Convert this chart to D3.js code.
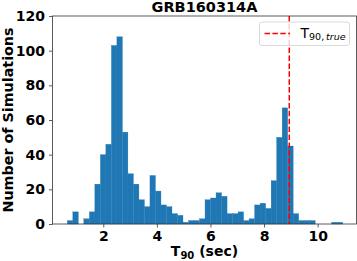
<!DOCTYPE html>
<html>
<head>
<meta charset="utf-8">
<script src="https://cdn.jsdelivr.net/npm/d3@7"></script>
<style>
  body { margin: 0; background: #fff; }
  text { font-family: "DejaVu Sans", sans-serif; }
</style>
</head>
<body>
<svg id="chart" width="357" height="261"></svg>
<script>
// histogram of simulated T90 values, 50 equal bins
const binStart = 0.657
const binWidth = 0.2056
const counts = [
  2, 7, 0, 3, 7, 23, 40, 46, 103, 108,
  53, 29, 23, 14, 10, 28, 19, 11, 10, 6,
  5, 1, 2, 2, 3, 14, 15, 18, 16, 6,
  6, 7, 2, 3, 11, 12, 9, 25, 50, 67,
  45, 6, 2, 2, 2, 0, 0, 0, 1, 1
]
const xTicks = [2, 4, 6, 8, 10]
const yTicks = [0, 20, 40, 60, 80, 100, 120]
const t90True = 8.94
const title = 'GRB160314A'

const svg = d3.select('#chart')
const mLeft = 52.5
const mRight = 356.5
const mTop = 16
const mBottom = 224

const x = d3.scaleLinear().domain([0.104, 11.45]).range([mLeft, mRight])
const y = d3.scaleLinear().domain([0, 120]).range([mBottom, mTop])

const bins = counts.map((c, i) => ({
  x0: binStart + i * binWidth,
  x1: binStart + (i + 1) * binWidth,
  n: c
}))

svg.append('g')
  .selectAll('rect')
  .data(bins.filter(d => d.n > 0))
  .enter()
  .append('rect')
  .attr('x', d => x(d.x0))
  .attr('width', d => x(d.x1) - x(d.x0))
  .attr('y', d => y(d.n))
  .attr('height', d => y(0) - y(d.n))
  .attr('fill', '#1f77b4')
  .attr('stroke', '#1f77b4')
  .attr('stroke-width', 0.3)

// vertical line for true T90
svg.append('line')
  .attr('x1', x(t90True)).attr('x2', x(t90True))
  .attr('y1', mTop).attr('y2', mBottom)
  .attr('stroke', '#ff0000')
  .attr('stroke-width', 1.5)
  .attr('stroke-dasharray', '5.5,2.4')

// axes
const xAxis = svg.append('g')
  .attr('transform', `translate(0,${mBottom})`)
  .call(d3.axisBottom(x).tickValues(xTicks).tickSize(3.5).tickPadding(4).tickFormat(d3.format('d')))
const yAxis = svg.append('g')
  .attr('transform', `translate(${mLeft},0)`)
  .call(d3.axisLeft(y).tickValues(yTicks).tickSize(3.5).tickPadding(4).tickFormat(d3.format('d')))

for (const ax of [xAxis, yAxis]) {
  ax.select('.domain').remove()
  ax.selectAll('line').attr('stroke', '#333').attr('stroke-width', 0.8)
  ax.selectAll('text')
    .attr('fill', '#000')
    .style('font-family', '"DejaVu Sans", sans-serif')
    .style('font-size', '14px')
    .style('font-weight', 'bold')
}

// frame
svg.append('rect')
  .attr('x', mLeft).attr('y', mTop)
  .attr('width', mRight - mLeft).attr('height', mBottom - mTop)
  .attr('fill', 'none')
  .attr('stroke', '#333')
  .attr('stroke-width', 0.8)

// title
svg.append('text')
  .attr('x', (mLeft + mRight) / 2)
  .attr('y', 11.5)
  .attr('text-anchor', 'middle')
  .style('font-size', '14.5px')
  .style('font-weight', 'bold')
  .text(title)

// x label
const xl = svg.append('text')
  .attr('x', (mLeft + mRight) / 2)
  .attr('y', 256)
  .attr('text-anchor', 'middle')
  .style('font-size', '14px')
  .style('font-weight', 'bold')
xl.append('tspan').text('T')
xl.append('tspan').attr('dy', 3).style('font-size', '10px').text('90')
xl.append('tspan').attr('dy', -3).text(' (sec)')

// y label
svg.append('text')
  .attr('transform', `translate(13,${(mTop + mBottom) / 2}) rotate(-90)`)
  .attr('text-anchor', 'middle')
  .style('font-size', '14.3px')
  .style('font-weight', 'bold')
  .text('Number of Simulations')

// legend
const lg = svg.append('g')
lg.append('rect')
  .attr('x', 259.5).attr('y', 22)
  .attr('width', 90).attr('height', 23.5)
  .attr('rx', 2.5)
  .attr('fill', '#fff').attr('fill-opacity', 0.8)
  .attr('stroke', '#d0d0d0').attr('stroke-width', 0.8)
lg.append('line')
  .attr('x1', 264.5).attr('x2', 290)
  .attr('y1', 33.5).attr('y2', 33.5)
  .attr('stroke', '#ff0000')
  .attr('stroke-width', 1.5)
  .attr('stroke-dasharray', '5.5,2.4')
const lt = lg.append('text')
  .attr('x', 300.5)
  .attr('y', 37.8)
  .style('font-size', '14px')
lt.append('tspan').text('T')
lt.append('tspan').attr('dy', 2).style('font-size', '9.5px').text('90,\u2009')
lt.append('tspan').style('font-size', '9.5px').style('font-style', 'italic').text('true')
</script>
</body>
</html>
